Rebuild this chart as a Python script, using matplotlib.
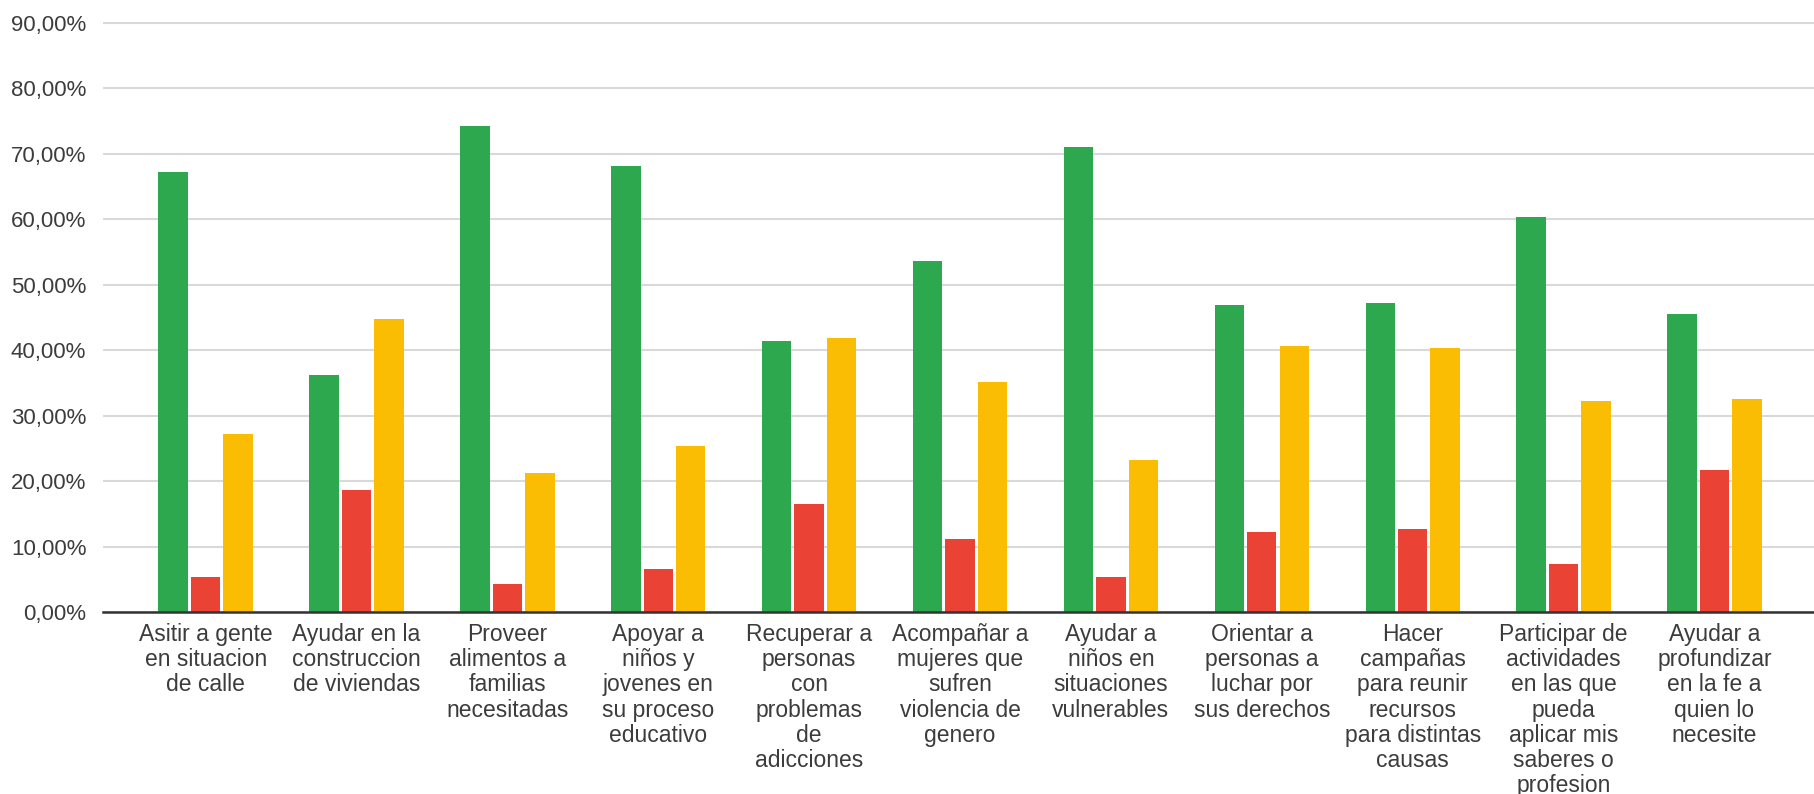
import matplotlib
matplotlib.use("Agg")
import matplotlib.pyplot as plt
import numpy as np
from matplotlib.ticker import FuncFormatter

plt.rcParams['font.family'] = ['Liberation Sans', 'DejaVu Sans']

# Categories as they appear under each group of bars
categories = [
    "Asitir a gente\nen situacion\nde calle",
    "Ayudar en la\nconstruccion\nde viviendas",
    "Proveer\nalimentos a\nfamilias\nnecesitadas",
    "Apoyar a\nniños y\njovenes en\nsu proceso\neducativo",
    "Recuperar a\npersonas\ncon\nproblemas\nde\nadicciones",
    "Acompañar a\nmujeres que\nsufren\nviolencia de\ngenero",
    "Ayudar a\nniños en\nsituaciones\nvulnerables",
    "Orientar a\npersonas a\nluchar por\nsus derechos",
    "Hacer\ncampañas\npara reunir\nrecursos\npara distintas\ncausas",
    "Participar de\nactividades\nen las que\npueda\naplicar mis\nsaberes o\nprofesion",
    "Ayudar a\nprofundizar\nen la fe a\nquien lo\nnecesite",
]

# Three series (fractions)
green_vals = [0.672, 0.362, 0.742, 0.681, 0.414, 0.536, 0.711, 0.469, 0.472, 0.604, 0.456]
red_vals = [0.053, 0.186, 0.043, 0.065, 0.165, 0.111, 0.053, 0.123, 0.127, 0.073, 0.217]
yellow_vals = [0.272, 0.448, 0.212, 0.253, 0.418, 0.351, 0.232, 0.406, 0.404, 0.322, 0.325]

series = [green_vals, red_vals, yellow_vals]
colors = ['#2ea84f', '#ea4335', '#fbbc04']

text_color = '#3c3c3c'

fig = plt.figure(figsize=(18.14, 7.94), dpi=100)
ax = fig.add_axes([0.0568, 0.2292, 0.9432, 0.746])

x = np.arange(len(categories))
width = 0.195
step = 0.215
for i, (vals, col) in enumerate(zip(series, colors)):
    ax.bar(x + (i - 1) * step, vals, width=width, color=col, zorder=3)

ax.set_xlim(-0.68, 10.66)
ax.set_ylim(0, 0.905)
ax.set_yticks(np.arange(0, 0.91, 0.1))
ax.yaxis.set_major_formatter(FuncFormatter(lambda v, p: f"{v*100:.2f}%".replace('.', ',')))

ax.set_xticks(x)
ax.set_xticklabels(categories, fontsize=16.5, color=text_color, linespacing=1.12)
ax.tick_params(axis='x', length=0, pad=8)
ax.tick_params(axis='y', length=0, pad=12, labelsize=16, labelcolor=text_color)

ax.grid(axis='y', color='#d9d9d9', linewidth=1.5, zorder=0)
ax.set_axisbelow(True)
for side in ['top', 'right', 'left']:
    ax.spines[side].set_visible(False)
ax.spines['bottom'].set_color('#333333')
ax.spines['bottom'].set_linewidth(1.8)
ax.spines['bottom'].set_zorder(4)

fig.savefig('out.png', dpi=100)
